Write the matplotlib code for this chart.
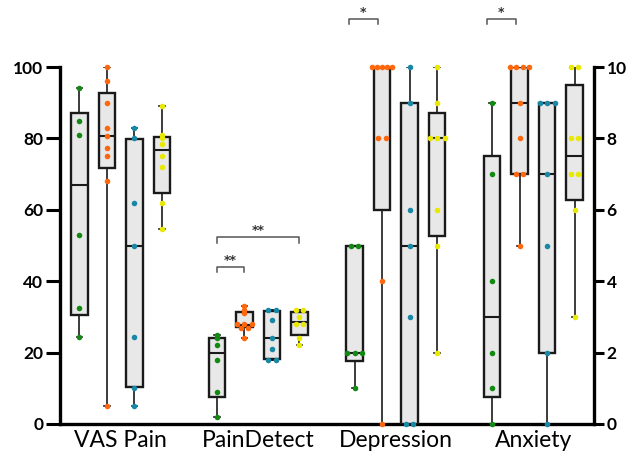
import matplotlib
matplotlib.use("Agg")
import matplotlib.pyplot as plt
import numpy as np

plt.rcParams['font.family'] = ['Lato', 'DejaVu Sans']

measures = ["VAS Pain", "PainDetect", "Depression", "Anxiety"]
colors = ["#128a12", "#ff670d", "#1888a6", "#e8e800"]

# points per group (green, orange, blue, yellow)
vas_pain = [
    [94, 85, 81, 53, 32.5, 24.5],
    [100, 96, 90, 83, 80.6, 77.2, 75, 68, 5],
    [83, 80, 62, 50, 24.5, 10, 5],
    [89, 81, 80, 78.5, 75, 72, 62, 54.5],
]
pain_detect = [
    [25, 24, 22, 18, 9, 2],
    [33, 32, 31, 28, 28, 28, 27, 27, 24],
    [32, 32, 29, 24, 21, 18, 18],
    [32, 32, 30, 28, 28, 24, 22],
]
depression = [
    [5, 5, 2, 2, 2, 1],
    [10, 10, 10, 10, 10, 8, 8, 4, 0],
    [10, 9, 6, 5, 3, 0, 0],
    [10, 9, 8, 8, 8, 6, 5, 2],
]
anxiety = [
    [9, 7, 4, 2, 1, 0],
    [10, 10, 10, 10, 9, 8, 7, 7, 5],
    [9, 9, 9, 7, 5, 2, 0],
    [10, 10, 8, 8, 7, 7, 6, 3],
]

# box quartiles (q1, median, q3)
vas_boxes = [(30.6, 67, 87.1), (71.7, 80.7, 92.7), (10.3, 50, 79.7), (64.8, 76.8, 80.5)]
pd_boxes = [(7.5, 20, 24), (27.1, 27.7, 31.4), (18.1, 24, 31.7), (25, 28.5, 31.3)]
dep_boxes = [(1.77, 2, 5), (6.0, 10, 10), (0, 5, 9), (5.27, 8, 8.7)]
anx_boxes = [(0.77, 3, 7.5), (7, 9, 10), (2, 7, 9), (6.27, 7.5, 9.5)]


def spread(vals, pos, step=0.27, width=0.7):
    xs = []
    for i, v in enumerate(vals):
        same = [j for j, w in enumerate(vals) if w == v]
        n = len(same)
        s = min(step, width / max(n - 1, 1))
        k = same.index(i)
        xs.append(pos + (k - (n - 1) / 2) * s)
    return xs


def draw_group(ax, g, points, boxes):
    stats = []
    for k in range(4):
        q1, med, q3 = boxes[k]
        stats.append(dict(q1=q1, med=med, q3=q3,
                          whislo=min(points[k]), whishi=max(points[k]), fliers=[]))
    pos = [5 * g + k for k in range(4)]
    ax.bxp(stats, positions=pos, widths=0.6, patch_artist=True, showfliers=False,
           capwidths=0.2,
           boxprops=dict(facecolor="#e8e8e8", edgecolor="#1a1a1a", linewidth=1.7),
           medianprops=dict(color="#1a1a1a", linewidth=1.5),
           whiskerprops=dict(color="#1a1a1a", linewidth=1.2),
           capprops=dict(color="#1a1a1a", linewidth=1.2))
    for k in range(4):
        ax.scatter(spread(points[k], pos[k]), points[k], s=16, color=colors[k],
                   zorder=5, clip_on=False, linewidths=0)


def bracket(ax, x1, x2, y, drop, label):
    ax.plot([x1, x1, x2, x2], [y - drop, y, y, y - drop], color="#555555",
            lw=1.1, clip_on=False)
    ax.text((x1 + x2) / 2, y, label, ha="center", va="bottom", fontsize=9,
            fontweight="bold", color="#333333", family="DejaVu Sans")


fig = plt.figure(figsize=(6.34, 4.58), dpi=100)
ax = fig.add_axes([60 / 634, 34 / 458, 534 / 634, 357 / 458])
ax2 = ax.twinx()

draw_group(ax, 0, vas_pain, vas_boxes)
draw_group(ax, 1, pain_detect, pd_boxes)
draw_group(ax2, 2, depression, dep_boxes)
draw_group(ax2, 3, anxiety, anx_boxes)

ax.set_xlim(-0.7, 18.7)
ax.set_ylim(0, 100)
ax2.set_ylim(0, 10)
ax.set_yticks(np.arange(0, 101, 20))
ax2.set_yticks(np.arange(0, 11, 2))

ax.set_xticks([5 * g + 1.5 for g in range(4)])
ax.set_xticklabels(measures, fontsize=16.5)
ax.tick_params(axis="x", length=0, pad=4)
ax.tick_params(axis="y", length=10, width=2.2, labelsize=12.5, pad=2)
ax2.tick_params(axis="y", length=7, width=2.2, labelsize=12.5, pad=2)
for lab in ax.get_yticklabels() + ax2.get_yticklabels():
    lab.set_fontweight("bold")

for a in (ax, ax2):
    a.spines["top"].set_visible(False)
    for s in ("left", "right", "bottom"):
        a.spines[s].set_linewidth(2.4)
ax.spines["right"].set_visible(False)
ax2.spines["left"].set_visible(False)
ax2.spines["bottom"].set_visible(False)

# significance brackets
bracket(ax, 5, 6, 44, 1.4, "**")
bracket(ax, 5, 8, 52.4, 1.7, "**")
bracket(ax2, 9.8, 10.85, 11.35, 0.15, "*")
bracket(ax2, 14.8, 15.85, 11.35, 0.15, "*")

fig.savefig("out.png", dpi=100)
